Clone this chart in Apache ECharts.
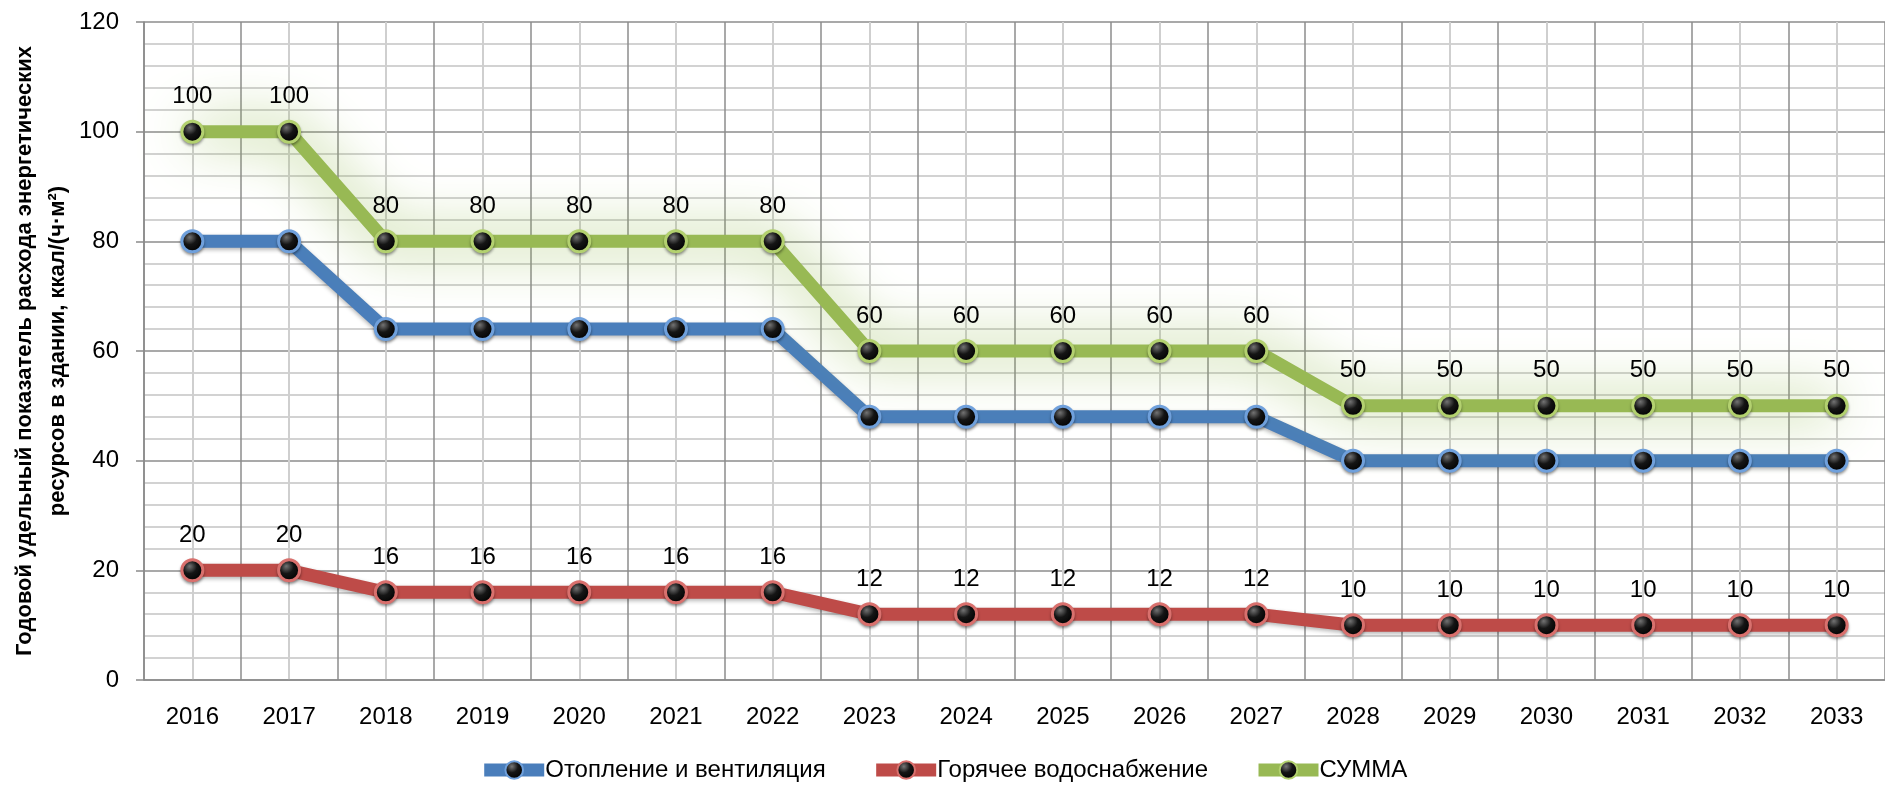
<!DOCTYPE html>
<html>
<head>
<meta charset="utf-8">
<script src="https://cdn.jsdelivr.net/npm/echarts@6/dist/echarts.min.js"></script>
<style>
  html, body { margin: 0; padding: 0; background: #fff; }
  #chart { width: 1885px; height: 785px; }
</style>
</head>
<body>
<div id="chart"></div>
<script>
// данные по годам
const years = ['2016', '2017', '2018', '2019', '2020', '2021', '2022', '2023', '2024',
  '2025', '2026', '2027', '2028', '2029', '2030', '2031', '2032', '2033'];
const heating = [80, 80, 64, 64, 64, 64, 64, 48, 48, 48, 48, 48, 40, 40, 40, 40, 40, 40];
const hotWater = [20, 20, 16, 16, 16, 16, 16, 12, 12, 12, 12, 12, 10, 10, 10, 10, 10, 10];
const total = [100, 100, 80, 80, 80, 80, 80, 60, 60, 60, 60, 60, 50, 50, 50, 50, 50, 50];
const seriesNames = ['Отопление и вентиляция', 'Горячее водоснабжение', 'СУММА'];

const FONT = '"Liberation Sans", Arial, sans-serif';

// черный шарик маркера
const ball = {
  type: 'radial', x: 0.38, y: 0.32, r: 0.7,
  colorStops: [
    {offset: 0, color: '#777'},
    {offset: 0.45, color: '#151515'},
    {offset: 1, color: '#000'}
  ]
};

function makeSeries(name, data, color, ring, glow, showLabel) {
  return {
    name: name,
    type: 'line',
    data: data,
    symbol: 'circle',
    symbolSize: 21,
    lineStyle: {
      color: color,
      width: 13,
      shadowColor: glow ? 'rgba(140,180,70,1)' : 'rgba(0,0,0,0.3)',
      shadowBlur: glow ? 55 : 4,
      shadowOffsetY: glow ? 0 : 2
    },
    itemStyle: {
      color: ball,
      borderColor: ring,
      borderWidth: 3,
      shadowColor: 'rgba(0,0,0,0.35)',
      shadowBlur: 3,
      shadowOffsetY: 2
    },
    label: {
      show: showLabel,
      position: 'top',
      distance: 11,
      color: '#000',
      fontSize: 24,
      fontFamily: FONT
    },
    emphasis: {disabled: true},
    animation: false
  };
}

const myChart = echarts.init(document.getElementById('chart'));

myChart.setOption({
  backgroundColor: '#fff',
  animation: false,
  grid: {left: 144, right: 0, top: 22, bottom: 105, outerBoundsMode: 'none', containLabel: false},
  legend: {
    left: 'center',
    top: 753,
    itemWidth: 60,
    itemHeight: 22,
    itemGap: 44,
    lineStyle: {width: 13},
    textStyle: {fontSize: 24, color: '#000', fontFamily: FONT, padding: [0, 0, 0, -4]},
    data: seriesNames
  },
  xAxis: [
    {
      type: 'category',
      data: years,
      boundaryGap: true,
      axisLine: {lineStyle: {color: '#8a8a8a', width: 1.5}},
      axisTick: {show: false},
      axisLabel: {fontSize: 24, color: '#000', margin: 25, fontFamily: FONT},
      splitLine: {show: false}
    },
    {
      // вспомогательная ось только для вертикальной сетки
      type: 'value',
      position: 'top',
      min: 0,
      max: 36,
      interval: 2,
      axisLine: {show: false},
      axisTick: {show: false},
      axisLabel: {show: false},
      splitLine: {show: true, lineStyle: {color: '#8c8c8c', width: 1.5}},
      minorTick: {show: false, splitNumber: 2},
      minorSplitLine: {show: true, lineStyle: {color: '#cfcfcf', width: 2}}
    }
  ],
  yAxis: {
    type: 'value',
    min: 0,
    max: 120,
    interval: 20,
    name: 'Годовой удельный показатель расхода энергетических\nресурсов в здании, ккал/(ч·м²)',
    nameLocation: 'middle',
    nameGap: 70,
    nameMoveOverlap: false,
    nameTextStyle: {
      fontSize: 22,
      fontWeight: 'bold',
      color: '#000',
      lineHeight: 33,
      fontFamily: FONT
    },
    axisLine: {show: true, lineStyle: {color: '#8a8a8a', width: 1.5}},
    axisTick: {show: true, length: 8, lineStyle: {color: '#8a8a8a', width: 1.5}},
    axisLabel: {fontSize: 24, color: '#000', margin: 25, fontFamily: FONT},
    splitLine: {show: true, lineStyle: {color: '#8c8c8c', width: 1.5}},
    minorTick: {show: false, splitNumber: 5},
    minorSplitLine: {show: true, lineStyle: {color: '#c4c4c4', width: 1.5}}
  },
  series: [
    makeSeries(seriesNames[0], heating, '#4a7ebb', '#6fa0dc', false, false),
    makeSeries(seriesNames[1], hotWater, '#be4b48', '#d9706d', false, true),
    makeSeries(seriesNames[2], total, '#98b954', '#b3d16f', true, true)
  ]
});
</script>
</body>
</html>
